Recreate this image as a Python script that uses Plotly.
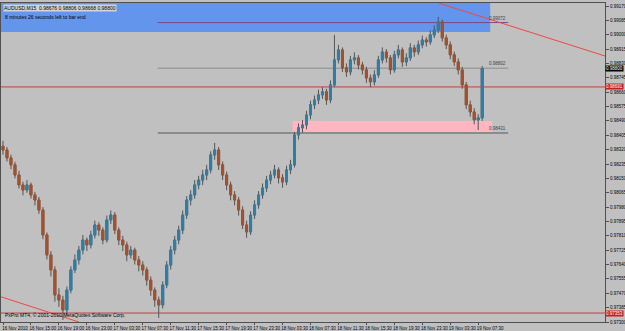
import plotly.graph_objects as go

# ---- data (AUDUSD M15, prices in points: value / 100000) ----
opens = [98340,98318,98271,98230,98170,98111,98081,98111,98052,98022,
         97963,97815,97697,97608,97460,97430,97371,97489,97608,97667,
         97726,97785,97756,97815,97874,97844,97785,97904,97933,97844,
         97785,97756,97697,97726,97667,97637,97608,97548,97489,97430,
         97401,97519,97637,97726,97785,97844,97933,98022,98052,98111,
         98140,98170,98200,98289,98318,98230,98170,98111,98052,98022,
         97963,97874,97833,97933,97993,98052,98093,98140,98170,98200,
         98153,98129,98200,98230,98407,98449,98466,98525,98585,98614,
         98644,98662,98614,98703,98851,98910,98804,98780,98851,98863,
         98821,98792,98744,98721,98762,98851,98898,98863,98792,98881,
         98910,98839,98863,98922,98898,98940,98969,98957,98999,99028,
         99076,98981,98940,98881,98839,98792,98703,98585,98543,98496,
         98508]
highs = [98372,98335,98290,98248,98195,98130,98140,98125,98070,98040,
         97980,97830,97720,97630,97500,97455,97510,97630,97700,97750,
         97815,97800,97840,97900,97890,97860,97930,97960,97950,97860,
         97810,97775,97750,97740,97690,97660,97625,97570,97505,97450,
         97540,97660,97750,97810,97870,97960,98045,98080,98140,98165,
         98200,98230,98310,98360,98335,98250,98190,98130,98075,98040,
         97985,97900,97955,98020,98075,98120,98165,98195,98230,98215,
         98175,98225,98260,98425,98475,98495,98550,98610,98640,98675,
         98690,98680,98730,98999,98940,98925,98830,98875,98895,98880,
         98840,98810,98765,98790,98875,98925,98915,98880,98905,98940,
         98925,98890,98950,98940,98965,98995,98985,99025,99055,99105,
         99090,99000,98960,98900,98860,98810,98720,98610,98565,98530,
         98815]
lows = [98290,98250,98205,98150,98090,98050,98065,98030,97990,97940,
        97790,97670,97570,97420,97390,97312,97340,97470,97590,97640,
        97700,97720,97735,97795,97810,97760,97770,97880,97820,97755,
        97720,97660,97675,97640,97600,97575,97515,97455,97390,97324,
        97380,97500,97610,97700,97760,97820,97910,97990,98030,98085,
        98110,98140,98180,98260,98200,98140,98080,98020,97990,97930,
        97850,97798,97815,97910,97970,98030,98070,98115,98150,98120,
        98095,98110,98175,98215,98380,98420,98440,98500,98560,98590,
        98620,98585,98595,98690,98830,98780,98750,98760,98825,98795,
        98765,98715,98690,98700,98745,98830,98835,98765,98775,98860,
        98810,98815,98845,98870,98880,98920,98930,98940,98980,99010,
        98960,98915,98855,98815,98765,98680,98560,98515,98470,98436,
        98490]
closes = [98318,98271,98230,98170,98111,98081,98111,98052,98022,97963,
          97815,97697,97608,97460,97430,97371,97489,97608,97667,97726,
          97785,97756,97815,97874,97844,97785,97904,97933,97844,97785,
          97756,97697,97726,97667,97637,97608,97548,97489,97430,97401,
          97519,97637,97726,97785,97844,97933,98022,98052,98111,98140,
          98170,98200,98289,98318,98230,98170,98111,98052,98022,97963,
          97874,97833,97933,97993,98052,98093,98140,98170,98200,98153,
          98129,98200,98230,98407,98449,98466,98525,98585,98614,98644,
          98662,98614,98703,98851,98910,98804,98780,98851,98863,98821,
          98792,98744,98721,98762,98851,98898,98863,98792,98881,98910,
          98839,98863,98922,98898,98940,98969,98957,98999,99028,99076,
          98981,98940,98881,98839,98792,98703,98585,98543,98496,98508,
          98800]

time_labels = ["16 Nov 2010", "16 Nov 15:00", "16 Nov 19:00", "16 Nov 23:00",
               "17 Nov 03:30", "17 Nov 07:30", "17 Nov 11:30", "17 Nov 15:30",
               "17 Nov 19:30", "17 Nov 23:30", "18 Nov 03:30", "18 Nov 07:30",
               "18 Nov 11:30", "18 Nov 15:30", "18 Nov 19:30", "18 Nov 23:30",
               "19 Nov 03:30", "19 Nov 07:30"]
time_label_bars = [0, 7, 14, 21, 28, 35, 42, 49, 56, 63, 70, 77, 84, 91, 98, 105, 112, 119]

price_ticks = [0.97300 + k * 0.00085 for k in range(23)]

# user-drawn objects
supply_zone = [0.99016, 0.99200]          # blue rectangle (price bottom, top)
supply_zone_bars = [-0.5, 122]
demand_zone = [0.98424, 0.98489]          # pink rectangle
demand_zone_bars = [72.5, 122.5]
levels = [0.99072, 0.98802, 0.98418]      # horizontal segments
level_texts = ["0.99072", "0.98802", "0.98431"]
level_colors = ["#7a4a8a", "#8c8c8c", "#8c8c8c"]
level_widths = [1, 1, 2]
level_bars = [38.75, 126.5]
red_levels = [0.98691, 0.97353]
red_level_texts = ["0.98691", "0.97353"]
trend_top = [(109, 0.99188), (150.75, 0.98874)]
trend_bottom = [(-0.5, 0.97449), (19, 0.97300)]
current_price = 0.98800

o = [v / 100000 for v in opens]
h = [v / 100000 for v in highs]
l = [v / 100000 for v in lows]
c = [v / 100000 for v in closes]
x = list(range(len(c)))
body_top = [max(a, b) for a, b in zip(o, c)]
body_bot = [min(a, b) for a, b in zip(o, c)]

BG = "#c0c0c0"
FONT = "Liberation Sans"
UP = "#2f7fa8"
DOWN = "#a8502a"

fig = go.Figure()

shapes = []
shapes.append(dict(type="rect", xref="x", yref="y", layer="below",
                   x0=supply_zone_bars[0], x1=supply_zone_bars[1],
                   y0=supply_zone[0], y1=supply_zone[1],
                   fillcolor="#6495ed", line=dict(width=0)))
shapes.append(dict(type="rect", xref="x", yref="y", layer="below",
                   x0=demand_zone_bars[0], x1=demand_zone_bars[1],
                   y0=demand_zone[0], y1=demand_zone[1],
                   fillcolor="#ffb6c1", line=dict(width=0)))
for lv, col, w in zip(levels, level_colors, level_widths):
    shapes.append(dict(type="line", xref="x", yref="y", layer="below",
                       x0=level_bars[0], x1=level_bars[1], y0=lv, y1=lv,
                       line=dict(color=col, width=w)))
for lv in red_levels:
    shapes.append(dict(type="line", xref="paper", yref="y", layer="below",
                       x0=0, x1=1, y0=lv, y1=lv,
                       line=dict(color="#c83c3c", width=1)))
for tr in (trend_top, trend_bottom):
    shapes.append(dict(type="line", xref="x", yref="y", layer="below",
                       x0=tr[0][0], y0=tr[0][1], x1=tr[1][0], y1=tr[1][1],
                       line=dict(color="#f04646", width=1)))

# wicks (gray)
fig.add_trace(go.Candlestick(
    x=x, open=o, high=h, low=l, close=c,
    increasing=dict(line=dict(color="#555555", width=1), fillcolor="#555555"),
    decreasing=dict(line=dict(color="#555555", width=1), fillcolor="#555555"),
    whiskerwidth=0, showlegend=False, hoverinfo="skip"))
# coloured bodies
fig.add_trace(go.Candlestick(
    x=x, open=o, high=body_top, low=body_bot, close=c,
    increasing=dict(line=dict(color=UP, width=1), fillcolor=UP),
    decreasing=dict(line=dict(color=DOWN, width=1), fillcolor=DOWN),
    whiskerwidth=0, showlegend=False, hoverinfo="skip"))

annotations = []
annotations.append(dict(xref="paper", yref="paper", x=0.004, y=0.998,
                        xanchor="left", yanchor="top", showarrow=False,
                        text="AUDUSD,M15  0.98676 0.98806 0.98668 0.98800",
                        font=dict(family=FONT, size=5, color="#000000"),
                        bgcolor="#d4d4d4", borderpad=0))
annotations.append(dict(xref="paper", yref="paper", x=0.004, y=0.972,
                        xanchor="left", yanchor="top", showarrow=False,
                        text="8 minutes 26 seconds left to bar end",
                        font=dict(family=FONT, size=5, color="#000000")))
annotations.append(dict(xref="paper", yref="paper", x=0.004, y=0.006,
                        xanchor="left", yanchor="bottom", showarrow=False,
                        text="PxPro MT4, \u00a9 2001-2010 MetaQuotes Software Corp.",
                        font=dict(family=FONT, size=5, color="#000000")))
for lv, t in zip(levels, level_texts):
    annotations.append(dict(xref="x", yref="y", x=level_bars[1], y=lv,
                            xanchor="right", yanchor="bottom", showarrow=False,
                            text=t, font=dict(family=FONT, size=4.5, color="#404040")))
annotations.append(dict(xref="paper", yref="y", x=1.0, y=current_price,
                        xanchor="left", yanchor="middle", showarrow=False,
                        text="0.98800", bgcolor="#000000", borderpad=0,
                        font=dict(family=FONT, size=4.5, color="#ffffff")))
for lv, t in zip(red_levels, red_level_texts):
    annotations.append(dict(xref="paper", yref="y", x=1.0, y=lv,
                            xanchor="left", yanchor="middle", showarrow=False,
                            text=t, bgcolor="#c81e1e", borderpad=0,
                            font=dict(family=FONT, size=4.5, color="#ffffff")))

fig.update_layout(
    width=625, height=331,
    margin=dict(l=1, r=20, t=3, b=9, autoexpand=False),
    paper_bgcolor=BG, plot_bgcolor=BG,
    shapes=shapes, annotations=annotations,
    showlegend=False,
    font=dict(family=FONT, size=5, color="#000000"),
    xaxis=dict(range=[-0.5, 150.75], rangeslider=dict(visible=False),
               tickvals=time_label_bars, ticktext=time_labels,
               tickangle=0, automargin=False,
               ticks="outside", ticklen=2, tickcolor="#505050",
               ticklabelshift=12, ticklabelstandoff=0,
               showgrid=False, zeroline=False,
               showline=True, linecolor="#505050", linewidth=1, mirror=True,
               tickfont=dict(family=FONT, size=4.5, color="#000000"),
               fixedrange=True),
    yaxis=dict(range=[0.97300, 0.991878], side="right", automargin=False,
               tickvals=price_ticks, ticktext=[f"{v:.5f}" for v in price_ticks],
               ticks="outside", ticklen=3, tickcolor="#505050",
               showgrid=False, zeroline=False,
               showline=True, linecolor="#505050", linewidth=1, mirror=True,
               tickfont=dict(family=FONT, size=4.5, color="#000000"),
               fixedrange=True),
)

fig.write_html("out.html", config=dict(displayModeBar=False))
